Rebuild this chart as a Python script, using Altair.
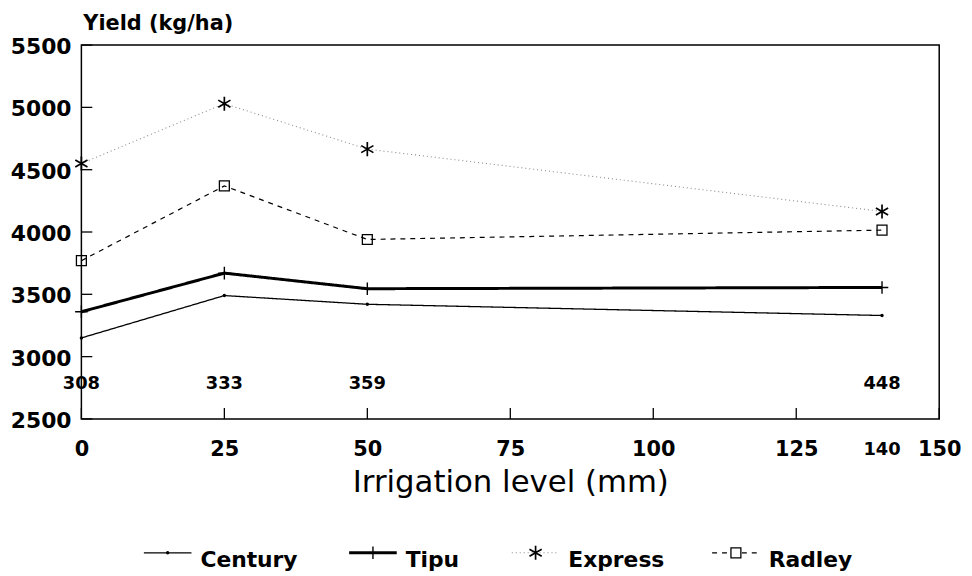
import altair as alt
import pandas as pd

# ---- data ----
irrigation = [0, 25, 50, 140]
water_use = ["308", "333", "359", "448"]
varieties = ["Century", "Tipu", "Express", "Radley"]
century = [3150, 3490, 3420, 3330]
tipu = [3360, 3670, 3545, 3555]
express = [4550, 5030, 4665, 4165]
radley = [3770, 4370, 3940, 4015]
x_ticks = [0, 25, 50, 75, 100, 125, 150]
y_ticks = [2500, 3000, 3500, 4000, 4500, 5000, 5500]
extra_x_label = ["140"]
extra_x_value = [140]
annotation_level = 2780
y_title = ["Yield (kg/ha)"]

rows = []
for name, vals in zip(varieties, [century, tipu, express, radley]):
    for xv, yv in zip(irrigation, vals):
        rows.append({"variety": name, "irrigation": xv, "yield": yv})
df = pd.DataFrame(rows)
df_xt = pd.DataFrame({"x": x_ticks})
df_yt = pd.DataFrame({"y": y_ticks, "label": [str(v) for v in y_ticks]})
df_ann = pd.DataFrame({"irrigation": irrigation, "label": water_use})
df_extra = pd.DataFrame({"x": extra_x_value, "label": extra_x_label})
df_leg = pd.DataFrame({"variety": varieties})
df_title = pd.DataFrame({"t": y_title})

W, H = 865, 377
FONT = "DejaVu Sans"
ASTER = "M0,-1L0,1M-0.87,-0.5L0.87,0.5M-0.87,0.5L0.87,-0.5"
PLUS = "M0,-1L0,1M-1,0L1,0"
HLINE = "M-1,0L1,0"

# styles per series (line + marker)
styles = {
    "Century": dict(color="#000000", width=1.3, dash=[1, 0], shape="circle", size=12, filled=True, mw=1.0),
    "Tipu": dict(color="#000000", width=3.0, dash=[1, 0], shape=PLUS, size=160, filled=False, mw=1.4),
    "Express": dict(color="#8a8a8a", width=1.1, dash=[1, 3], shape=ASTER, size=200, filled=False, mw=1.7),
    "Radley": dict(color="#000000", width=1.2, dash=[5, 5], shape="square", size=100, filled=False, mw=1.3),
}

xscale = alt.Scale(domain=[0, 150], nice=False, zero=False)
yscale = alt.Scale(domain=[2500, 5500], nice=False, zero=False)
leg_x = alt.Scale(domain=[0, 1, 2, 3], range=[87, 294, 458, 660])
leg_order = "indexof(['Century','Tipu','Express','Radley'], datum.variety)"

x_axis = alt.Axis(
    values=x_ticks, ticks=False, domain=False, grid=False, format="d",
    labelFont=FONT, labelFontSize=21, labelFontWeight="bold", labelColor="black",
    labelPadding=20, labelFlush=False, labelOverlap=False,
    title="Irrigation level (mm)", titleFont=FONT, titleFontSize=31,
    titleFontWeight="normal", titleColor="black", titleY=73, titleBaseline="alphabetic",
)

layers = []
first = True
for name in varieties:
    s = styles[name]
    sub = alt.Chart(df).transform_filter(alt.datum.variety == name)
    layers.append(
        sub.mark_line(color=s["color"], strokeWidth=s["width"], strokeDash=s["dash"]).encode(
            x=alt.X("irrigation:Q", scale=xscale, axis=x_axis if first else None),
            y=alt.Y("yield:Q", scale=yscale, axis=None),
        )
    )
    first = False
for name in varieties:
    s = styles[name]
    sub = alt.Chart(df).transform_filter(alt.datum.variety == name)
    layers.append(
        sub.mark_point(shape=s["shape"], size=s["size"], filled=s["filled"], color="black",
                       opacity=1, strokeWidth=s["mw"]).encode(
            x=alt.X("irrigation:Q", scale=xscale, axis=None),
            y=alt.Y("yield:Q", scale=yscale, axis=None),
        )
    )

# y ticks (inward) and y tick labels
layers.append(alt.Chart(df_yt).mark_rule(color="black", strokeWidth=1.3).encode(
    y=alt.Y("y:Q", scale=yscale, axis=None),
    x=alt.value(0),
    x2=alt.value(11),
))
layers.append(alt.Chart(df_yt).mark_text(
    font=FONT, fontSize=22, fontWeight="bold", color="black", align="right",
    baseline="middle", dy=2,
).encode(
    y=alt.Y("y:Q", scale=yscale, axis=None),
    x=alt.value(-10),
    text="label:N",
))
# x ticks (inward)
layers.append(alt.Chart(df_xt).mark_rule(color="black", strokeWidth=1.3).encode(
    x=alt.X("x:Q", scale=xscale, axis=None),
    y=alt.value(H),
    y2=alt.value(H - 11),
))
layers.append(alt.Chart(df_ann).mark_text(
    font=FONT, fontSize=18, fontWeight="bold", color="black", baseline="middle", align="center"
).encode(
    x=alt.X("irrigation:Q", scale=xscale, axis=None),
    y=alt.Y(datum=annotation_level, axis=None),
    text="label:N",
))
layers.append(alt.Chart(df_extra).mark_text(
    font=FONT, fontSize=18, fontWeight="bold", color="black", baseline="middle", align="center"
).encode(
    x=alt.X("x:Q", scale=xscale, axis=None),
    y=alt.value(H + 31),
    text="label:N",
))
# axis title at the top-left of the frame
layers.append(alt.Chart(df_title).mark_text(
    font=FONT, fontSize=21, fontWeight="bold", color="black", baseline="alphabetic", align="left"
).encode(
    x=alt.value(2),
    y=alt.value(-15),
    text="t:N",
))

# legend
for name in varieties:
    s = styles[name]
    sub = alt.Chart(df_leg).transform_filter(alt.datum.variety == name).transform_calculate(
        idx=leg_order
    )
    layers.append(sub.mark_point(shape=HLINE, size=2304, filled=False, color=s["color"],
                                 opacity=1, strokeWidth=s["width"], strokeDash=s["dash"]).encode(
        x=alt.X("idx:Q", scale=leg_x, axis=None),
        y=alt.value(H + 135),
    ))
    layers.append(sub.mark_point(shape=s["shape"], size=s["size"], filled=s["filled"],
                                 color="black", opacity=1, strokeWidth=s["mw"],
                                 fill="black" if s["filled"] else "white").encode(
        x=alt.X("idx:Q", scale=leg_x, axis=None),
        y=alt.value(H + 135),
    ))
layers.append(alt.Chart(df_leg).transform_calculate(idx=leg_order).mark_text(
    font=FONT, fontSize=22, fontWeight="bold", color="black", align="left",
    baseline="alphabetic", dx=33,
).encode(
    x=alt.X("idx:Q", scale=leg_x, axis=None),
    y=alt.value(H + 149),
    text="variety:N",
))

chart = alt.layer(*layers).resolve_scale(x="independent").properties(
    width=W,
    height=H,
    autosize="none",
    padding={"left": 74, "top": 35, "right": 25, "bottom": 156},
    background="white",
).configure_view(stroke="black", strokeWidth=1.5)

chart.save("out.html", embed_options={"renderer": "svg", "actions": False})
